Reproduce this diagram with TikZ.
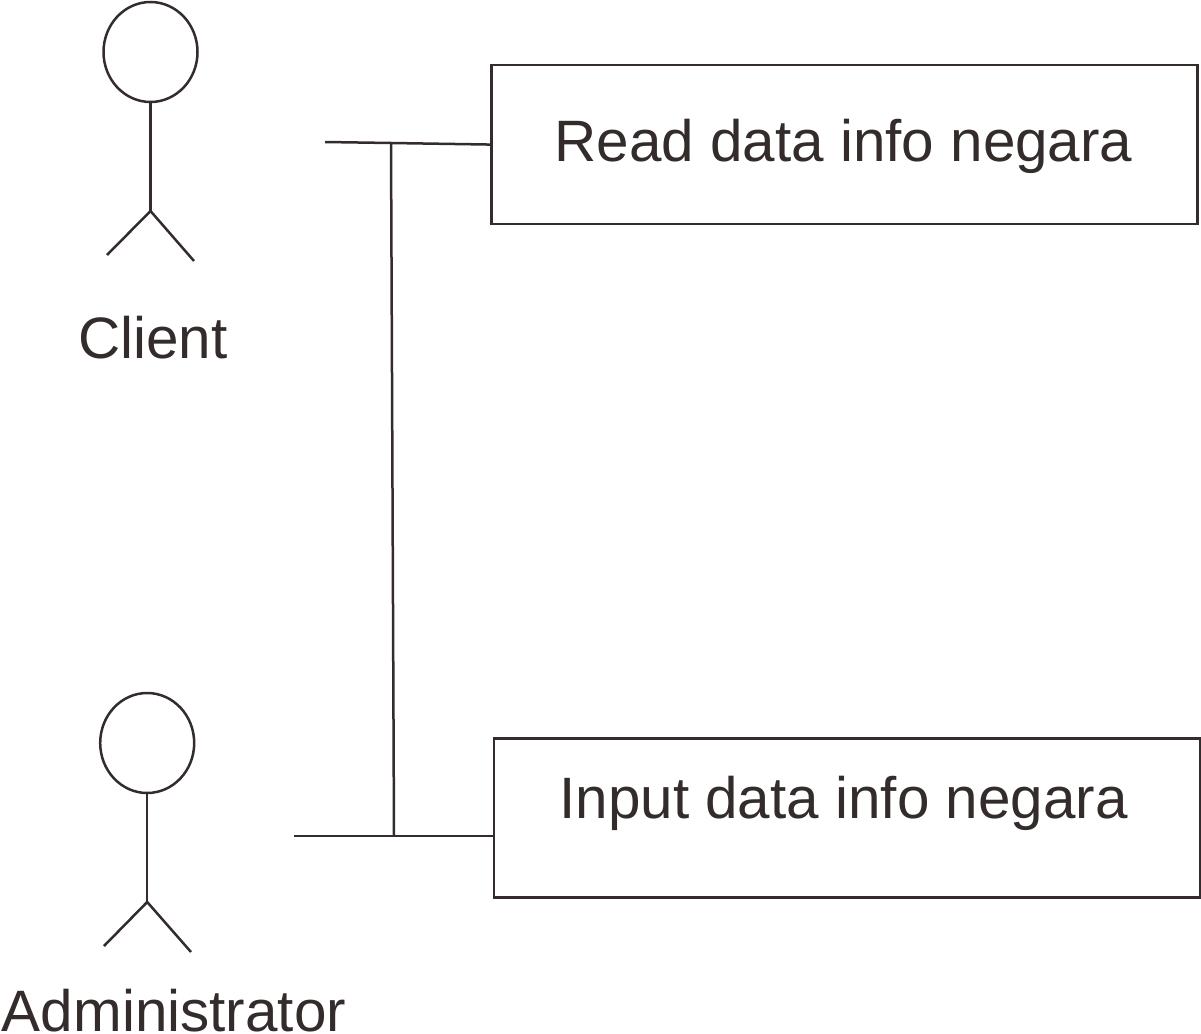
\documentclass[tikz,border=0pt]{standalone}
\usepackage{fontspec}
\setmainfont{Liberation Sans}
\definecolor{ink}{HTML}{332C2B}
\usetikzlibrary{shapes.geometric}
\tikzset{
  px/.style={x=1pt,y=-1pt},
  ln/.style={draw=ink,line width=2.5pt},
  usecase/.style={ln,rectangle,inner sep=0pt,anchor=north west},
  head/.style={ln,ellipse,inner sep=0pt,minimum width=94pt,minimum height=100pt},
  lbl/.style={text=ink,font=\fontsize{58.4}{60}\selectfont,inner sep=0pt},
}
\begin{document}
\begin{tikzpicture}[px]
\useasboundingbox (0,0) rectangle (1201,1033);
% Client actor
\node[head] (h1) at (150.5,52) {};
\coordinate (c1) at (150.5,211);
\coordinate (c1l) at (107,255);
\coordinate (c1r) at (194,261);
\draw[ln] (h1.south) -- (c1);
\draw[ln] (c1l) -- (c1) -- (c1r);
\node[lbl,anchor=base] (cl) at (153,358) {Client};
% Admin actor
\node[head] (h2) at (147.2,743) {};
\coordinate (c2) at (147.2,902);
\coordinate (c2l) at (104,946);
\coordinate (c2r) at (191,952);
\draw[ln] (h2.south) -- (c2);
\draw[ln] (c2l) -- (c2) -- (c2r);
\node[lbl,anchor=base] (al) at (174,1031) {Administrator};
% Use cases
\node[usecase,minimum width=706pt,minimum height=159pt] (r1) at (490,63.8) {};
\node[usecase,minimum width=706pt,minimum height=159pt] (r2) at (492.5,737) {};
\node[lbl,anchor=base] (t1) at (843.5,161) {Read data info negara};
\node[lbl,anchor=base] (t2) at (843.5,818) {Input data info negara};
% Connectors
\coordinate (a1) at (325,142);
\coordinate (a2) at (294,836);
\coordinate (j1) at (391,143);
\coordinate (j2) at (394,836);
\draw[ln] (a1) -- (j1) -- (r1.west);
\draw[ln] (a2) -- (j2) -- (r2.west |- j2);
\draw[ln] (j1) -- (j2);
\end{tikzpicture}
\end{document}
